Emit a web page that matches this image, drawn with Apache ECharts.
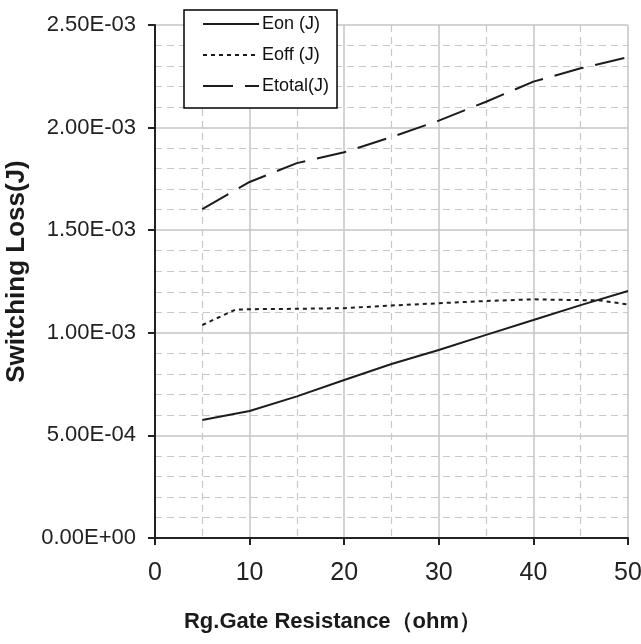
<!DOCTYPE html>
<html>
<head>
<meta charset="utf-8">
<script src="https://cdn.jsdelivr.net/npm/echarts@6/dist/echarts.min.js"></script>
<style>
html,body{margin:0;padding:0;background:#fff;}
#chart{width:641px;height:644px;}
</style>
</head>
<body>
<div id="chart"></div>
<script>
var resistance = [5, 10, 15, 20, 25, 30, 35, 40, 45, 50];
var eon = [5.75e-4, 6.19e-4, 6.90e-4, 7.70e-4, 8.48e-4, 9.16e-4, 9.90e-4, 1.062e-3, 1.135e-3, 1.204e-3];
var eoffResistance = [5, 8.5, 10, 15, 20, 25, 30, 35, 40, 44, 47, 50];
var eoff = [1.038e-3, 1.113e-3, 1.115e-3, 1.117e-3, 1.120e-3, 1.133e-3, 1.144e-3, 1.155e-3, 1.163e-3, 1.160e-3, 1.158e-3, 1.138e-3];
var etotal = [1.603e-3, 1.735e-3, 1.827e-3, 1.880e-3, 1.954e-3, 2.034e-3, 2.126e-3, 2.224e-3, 2.289e-3, 2.343e-3];
var seriesNames = ['Eon (J)', 'Eoff (J)', 'Etotal(J)'];
var xTitle = 'Rg.Gate Resistance（ohm）';
var yTitle = 'Switching Loss(J)';

function pairs(xs, ys) { return xs.map(function (x, i) { return [x, ys[i]]; }); }
function sci(v) {
  var s = Number(v).toExponential(2).toUpperCase();
  var m = s.match(/^(-?[\d.]+)E([+-])(\d+)$/);
  var e = m[3].length < 2 ? '0' + m[3] : m[3];
  return m[1] + 'E' + m[2] + e;
}

var FONT = '"Liberation Sans Narrow", "Liberation Sans", Arial, sans-serif';
var lineColor = '#1c1c1c';
var chart = echarts.init(document.getElementById('chart'));
chart.setOption({
  backgroundColor: '#fff',
  animation: false,
  grid: { left: 155, right: 13, top: 25, bottom: 106, containLabel: false, outerBoundsMode: 'none' },
  legend: {
    orient: 'vertical',
    left: 184,
    top: 10,
    data: seriesNames,
    backgroundColor: '#fff',
    borderColor: '#000',
    borderWidth: 1.5,
    borderRadius: 0,
    padding: [5, 8, 13, 18],
    itemWidth: 56,
    itemHeight: 14,
    itemGap: 13,
    itemStyle: { opacity: 0, borderWidth: 0 },
    textStyle: { fontFamily: FONT, fontSize: 18, lineHeight: 18, color: '#111', padding: [0, 0, 0, -2] }
  },
  xAxis: {
    type: 'value',
    min: 0, max: 50, interval: 10,
    name: xTitle,
    nameLocation: 'middle',
    nameGap: 73,
    nameTextStyle: { fontFamily: FONT, fontSize: 22, fontWeight: 'bold', color: '#1a1a1a', padding: [0, 118, 0, 0] },
    axisLine: { show: true, onZero: false, lineStyle: { color: '#222', width: 2 } },
    axisTick: { show: true, length: 7, lineStyle: { color: '#222', width: 2 } },
    axisLabel: { margin: 23, fontFamily: FONT, fontSize: 25, color: '#222' },
    splitLine: { show: true, lineStyle: { color: '#c4c4c4', width: 1.5 } },
    minorTick: { show: false, splitNumber: 2 },
    minorSplitLine: { show: true, lineStyle: { color: '#c8c8c8', width: 1.2, type: [7, 5] } }
  },
  yAxis: {
    type: 'value',
    min: 0, max: 0.0025, interval: 0.0005,
    name: yTitle,
    nameLocation: 'middle',
    nameGap: 124,
    nameRotate: 90,
    nameTextStyle: { fontFamily: FONT, fontSize: 26, fontWeight: 'bold', color: '#1a1a1a', padding: [0, 0, 0, 20] },
    axisLine: { show: true, lineStyle: { color: '#222', width: 2 } },
    axisTick: { show: true, length: 7, lineStyle: { color: '#222', width: 2 } },
    axisLabel: { margin: 19, fontFamily: FONT, fontSize: 22, color: '#222', formatter: sci },
    splitLine: { show: true, lineStyle: { color: '#c4c4c4', width: 1.5 } },
    minorTick: { show: false, splitNumber: 5 },
    minorSplitLine: { show: true, lineStyle: { color: '#c8c8c8', width: 1.2, type: [7, 5] } }
  },
  series: [
    {
      name: seriesNames[0], type: 'line', data: pairs(resistance, eon),
      symbol: 'none', smooth: false,
      lineStyle: { color: lineColor, width: 2, type: 'solid' }, itemStyle: { color: lineColor }
    },
    {
      name: seriesNames[1], type: 'line', data: pairs(eoffResistance, eoff),
      symbol: 'none', smooth: false,
      lineStyle: { color: lineColor, width: 2, type: [4, 4] }, itemStyle: { color: lineColor }
    },
    {
      name: seriesNames[2], type: 'line', data: pairs(resistance, etotal),
      symbol: 'none', smooth: false,
      lineStyle: { color: lineColor, width: 2, type: [30, 12] }, itemStyle: { color: lineColor }
    }
  ]
});
</script>
</body>
</html>
